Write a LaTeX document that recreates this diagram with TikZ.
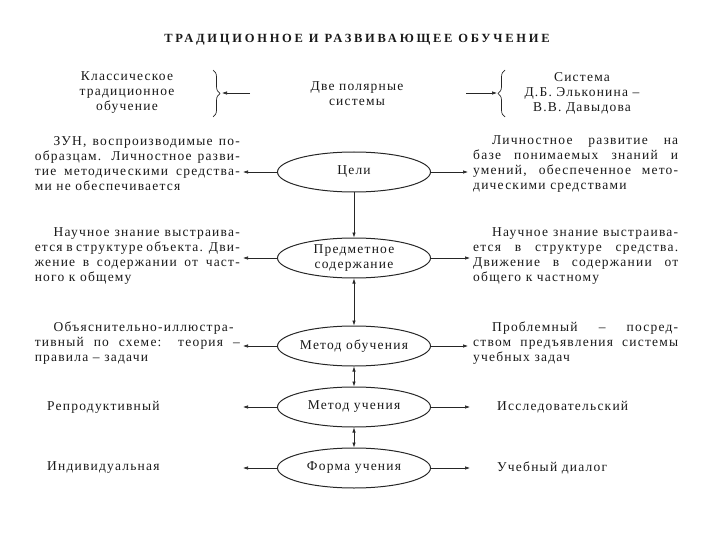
\documentclass[tikz,border=0pt]{standalone}
\usepackage{fontspec}
\setmainfont{Liberation Serif}
\newfontfamily\spaced[LetterSpace=9]{Liberation Serif}
\newfontfamily\tspaced[LetterSpace=22]{Liberation Serif}
\usetikzlibrary{shapes.geometric,arrows.meta,decorations.pathreplacing}
\begin{document}
\begin{tikzpicture}[x=1pt,y=-1pt,
  every node/.style={font=\fontsize{13.5}{15}\selectfont\spaced, text=black!90},
  ell/.style={ellipse, draw=black!85, line width=1pt, minimum width=153pt, minimum height=40pt, inner sep=0pt, align=center},
  blk/.style={text width=205pt, align=justify, inner sep=0pt},
  lbl/.style={inner sep=0pt, align=center},
  arr/.style={-{Latex[length=5pt,width=3.5pt]}, line width=0.6pt, draw=black!85},
  darr/.style={{Latex[length=5pt,width=3.5pt]}-{Latex[length=5pt,width=3.5pt]}, line width=0.6pt, draw=black!85},
  brc/.style={decorate, decoration={brace, amplitude=7pt}, line width=0.7pt, draw=black!85}]
\useasboundingbox (0,0) rectangle (720,540);

% title
\node[lbl, font=\fontsize{12.5}{14}\selectfont\bfseries\tspaced] (title) at (357,40) {ТРАДИЦИОННОЕ И РАЗВИВАЮЩЕЕ ОБУЧЕНИЕ};

% top row
\node[lbl] (classic) at (127,93) {Классическое\\традиционное\\обучение};
\node[lbl] (two) at (357,94) {Две полярные\\системы};
\node[lbl] (elk) at (582,93) {Система\\Д.Б. Эльконина –\\В.В. Давыдова};
\coordinate (lbt) at (213,70);
\coordinate (lbb) at (213,117);
\coordinate (rbt) at (505,70);
\coordinate (rbb) at (505,117);
\draw[brc] (lbt) -- (lbb);
\draw[brc] (rbb) -- (rbt);
\coordinate (la1) at (250,93);
\coordinate (la2) at (222,93);
\coordinate (ra1) at (466,93);
\coordinate (ra2) at (497,93);
\draw[arr] (la1) -- (la2);
\draw[arr] (ra1) -- (ra2);

% ellipses
\node[ell] (goals) at (354,172) {Цели};
\node[ell] (subj) at (354,258) {Предметное\\содержание};
\node[ell] (mteach) at (354,346) {Метод обучения};
\node[ell] (mlearn) at (354,407) {Метод учения};
\node[ell] (form) at (354,468) {Форма учения};

\draw[arr] (goals) -- (subj);
\draw[darr] (subj) -- (mteach);
\draw[darr] (mteach) -- (mlearn);
\draw[darr] (mlearn) -- (form);

% left blocks
\node[blk, anchor=east] (l1) at (240,164) {\hspace*{1.4em}ЗУН, воспроизводимые по-\linebreak образцам. Личностное разви-\linebreak тие методическими средства-\linebreak ми не обеспечивается};
\node[blk, anchor=east] (l2) at (240,256) {\hspace*{1.4em}Научное знание выстраива-\linebreak ется в структуре объекта. Дви-\linebreak жение в содержании от част-\linebreak ного к общему};
\node[blk, anchor=east] (l3) at (240,343) {\hspace*{1.4em}Объяснительно-иллюстра-\linebreak тивный по схеме: теория –\linebreak правила – задачи};
\node[lbl, anchor=west] (l4) at (47,407) {Репродуктивный};
\node[lbl, anchor=west] (l5) at (47,468) {Индивидуальная};

% right blocks
\node[blk, anchor=west] (r1) at (473,164) {\hspace*{1.4em}Личностное развитие на\linebreak базе понимаемых знаний и\linebreak умений, обеспеченное мето-\linebreak дическими средствами};
\node[blk, anchor=west] (r2) at (473,256) {\hspace*{1.4em}Научное знание выстраива-\linebreak ется в структуре средства.\linebreak Движение в содержании от\linebreak общего к частному};
\node[blk, anchor=west] (r3) at (473,343) {\hspace*{1.4em}Проблемный – посред-\linebreak ством предъявления системы\linebreak учебных задач};
\node[lbl, anchor=west] (r4) at (497,407) {Исследовательский};
\node[lbl, anchor=west] (r5) at (497,468) {Учебный диалог};

% side arrows
\coordinate (ga) at (243,172); \coordinate (gb) at (468,172);
\coordinate (sa) at (243,258); \coordinate (sb) at (470,258);
\coordinate (ta) at (243,346); \coordinate (tb) at (468,346);
\coordinate (ua) at (243,407); \coordinate (ub) at (470,407);
\coordinate (fa) at (243,468); \coordinate (fb) at (470,468);
\draw[arr] (goals) -- (ga);
\draw[arr] (goals) -- (gb);
\draw[arr] (subj) -- (sa);
\draw[arr] (subj) -- (sb);
\draw[arr] (mteach) -- (ta);
\draw[arr] (mteach) -- (tb);
\draw[arr] (mlearn) -- (ua);
\draw[arr] (mlearn) -- (ub);
\draw[arr] (form) -- (fa);
\draw[arr] (form) -- (fb);
\end{tikzpicture}
\end{document}
